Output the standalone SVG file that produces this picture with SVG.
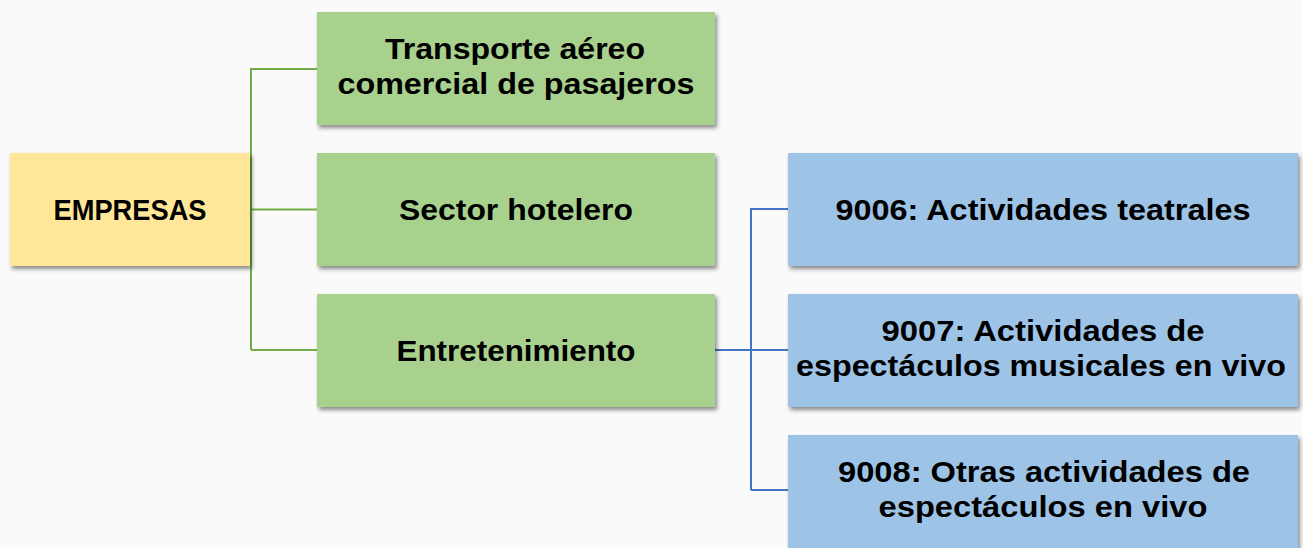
<svg xmlns="http://www.w3.org/2000/svg" width="1303" height="548" viewBox="0 0 1303 548">
<defs>
<filter id="sh" x="-10%" y="-10%" width="130%" height="140%">
<feDropShadow dx="2" dy="3" stdDeviation="2.2" flood-color="#000" flood-opacity="0.45"/>
</filter>
</defs>
<style>
.t{font-family:"Liberation Sans","DejaVu Sans",sans-serif;font-weight:bold;font-size:30px;fill:#000;text-anchor:middle}
.y{fill:#FFE699;filter:url(#sh)}
.g{fill:#A9D18E;filter:url(#sh)}
.b{fill:#9DC3E6;filter:url(#sh)}
.cg{fill:none;stroke:#70AD47;stroke-width:2}
.cb{fill:none;stroke:#4472C4;stroke-width:2}
</style>
<rect width="1303" height="548" fill="#FAFAFA"/>
<g id="connectors">
<path class="cg" d="M250 209.5H317M251 350V69H317M251 350H317"/>
<path class="cb" d="M715 350H788M751 490V209H788M751 490H788"/>
</g>
<g id="empresas"><rect class="y" x="10" y="153" width="240" height="113"/><text class="t" x="130" y="220" textLength="153" lengthAdjust="spacingAndGlyphs">EMPRESAS</text></g>
<g id="transporte"><rect class="g" x="317" y="12" width="398" height="113"/><text class="t" x="515" y="59" textLength="260" lengthAdjust="spacingAndGlyphs">Transporte aéreo</text><text class="t" x="516" y="94" textLength="357" lengthAdjust="spacingAndGlyphs">comercial de pasajeros</text></g>
<g id="hotelero"><rect class="g" x="317" y="153" width="398" height="113"/><text class="t" x="516" y="220" textLength="234" lengthAdjust="spacingAndGlyphs">Sector hotelero</text></g>
<g id="entretenimiento"><rect class="g" x="317" y="294" width="398" height="113"/><text class="t" x="516" y="361" textLength="239" lengthAdjust="spacingAndGlyphs">Entretenimiento</text></g>
<g id="n9006"><rect class="b" x="788" y="153" width="510" height="113"/><text class="t" x="1043" y="220" textLength="415" lengthAdjust="spacingAndGlyphs">9006: Actividades teatrales</text></g>
<g id="n9007"><rect class="b" x="788" y="294" width="510" height="113"/><text class="t" x="1043" y="341" textLength="323" lengthAdjust="spacingAndGlyphs">9007: Actividades de</text><text class="t" x="1041" y="376" textLength="490" lengthAdjust="spacingAndGlyphs">espectáculos musicales en vivo</text></g>
<g id="n9008"><rect class="b" x="788" y="435" width="510" height="113"/><text class="t" x="1044" y="482" textLength="412" lengthAdjust="spacingAndGlyphs">9008: Otras actividades de</text><text class="t" x="1043" y="517" textLength="329" lengthAdjust="spacingAndGlyphs">espectáculos en vivo</text></g>
</svg>
